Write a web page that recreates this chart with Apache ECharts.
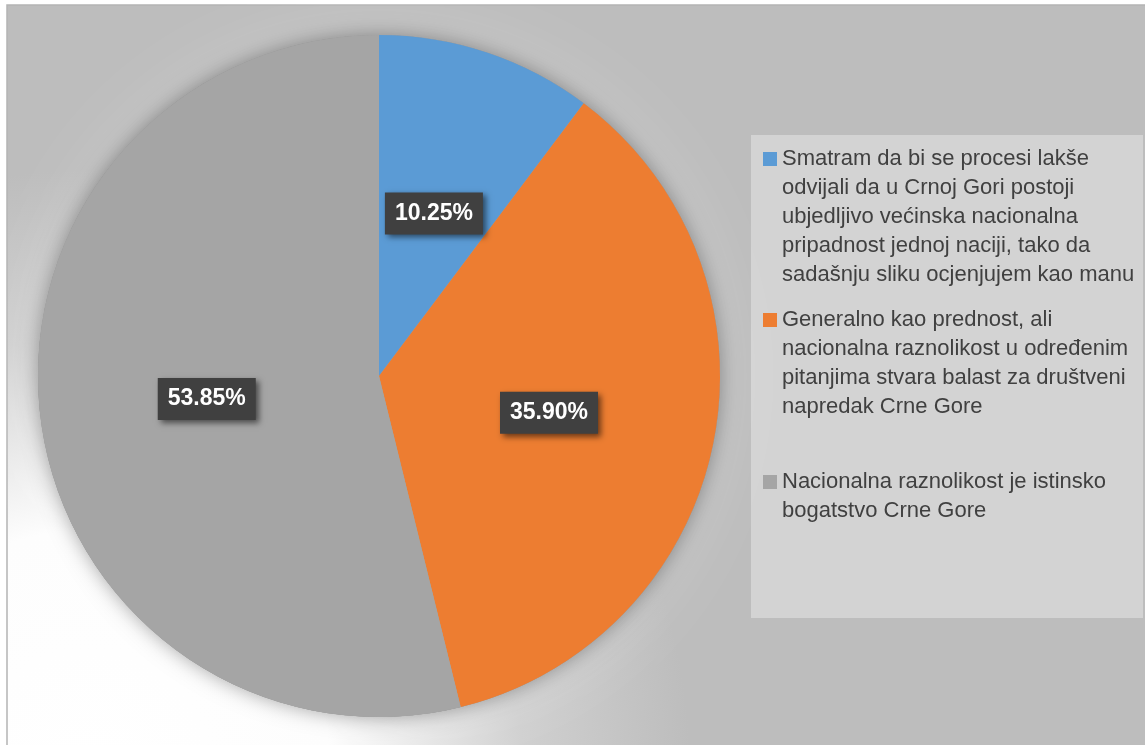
<!DOCTYPE html>
<html>
<head>
	<meta charset="utf-8">
	<title>Nacionalna raznolikost</title>
	<script src="https://cdn.jsdelivr.net/npm/echarts@6/dist/echarts.min.js"></script>
	<style>
		html, body { margin: 0; padding: 0; background: #fff; }
		#box { width: 1145px; height: 745px; }
	</style>
</head>
<body>
	<div id="box"></div>
	<script type="text/javascript">
		// legend text, one entry per line as wrapped in the original
		var categoryLines = [
			['Smatram da bi se procesi lakše', 'odvijali da u Crnoj Gori postoji', 'ubjedljivo većinska nacionalna', 'pripadnost jednoj naciji, tako da', 'sadašnju sliku ocjenjujem kao manu'],
			['Generalno kao prednost, ali', 'nacionalna raznolikost u određenim', 'pitanjima stvara balast za društveni', 'napredak Crne Gore'],
			['Nacionalna raznolikost je istinsko', 'bogatstvo Crne Gore']
		]
		var categories = categoryLines.map(function (l) { return l.join(' ') })
		// share in percent
		var values = [10.25, 35.90, 53.85]
		var colors = ['#5b9bd5', '#ed7d31', '#a5a5a5']

		var center = [379, 376]
		var radius = 341
		var lh = 29
		// centre of first legend line for each entry
		var legendFirstLine = [159, 320, 482]

		var chart = echarts.init(document.getElementById('box'))

		var pieData = categories.map(function (name, i) {
			return { name: name, value: values[i], itemStyle: { color: colors[i] } }
		})

		// one legend per entry so the vertical spacing can follow the original
		var legends = categories.map(function (name, i) {
			var n = categoryLines[i].length
			// blank lines on top keep the icon level with the first line
			var pad = new Array(n).join('\n')
			return {
				data: [name],
				orient: 'vertical',
				left: 763,
				top: legendFirstLine[i] - (2 * n - 1) * lh / 2,
				padding: 0,
				icon: 'rect',
				itemWidth: 14,
				itemHeight: 14,
				selectedMode: false,
				formatter: function () { return pad + categoryLines[i].join('\n') },
				textStyle: {
					fontFamily: 'Liberation Sans',
					fontSize: 22,
					color: '#404040',
					lineHeight: lh
				}
			}
		})

		var option = {
			backgroundColor: '#ffffff',
			animation: false,
			graphic: [
				{
					type: 'rect',
					silent: true,
					z: -10,
					shape: { x: 7, y: 5, width: 1145, height: 745 },
					style: {
						fill: {
							type: 'radial', x: 90, y: 770, r: 600, global: true,
							colorStops: [
								{ offset: 0, color: '#ffffff' },
								{ offset: 0.4, color: '#fdfdfd' },
								{ offset: 0.72, color: '#d0d0d0' },
								{ offset: 1, color: '#bdbdbd' }
							]
						},
						stroke: '#b4b4b4',
						lineWidth: 1.5
					}
				},
				{
					type: 'rect',
					silent: true,
					z: -9,
					shape: { x: 751, y: 135, width: 392, height: 483 },
					style: { fill: '#d3d3d3' }
				}
			],
			legend: legends,
			series: [
				// faint glow and soft shadow behind the pie
				{
					type: 'pie', silent: true, center: center, radius: radius, z: 1,
					label: { show: false }, labelLine: { show: false },
					itemStyle: { color: '#a5a5a5', shadowColor: 'rgba(255,255,255,0.3)', shadowBlur: 60 },
					data: [{ value: 1, name: '' }]
				},
				{
					type: 'pie', silent: true, center: center, radius: radius, z: 1,
					label: { show: false }, labelLine: { show: false },
					itemStyle: { color: '#a5a5a5', shadowColor: 'rgba(0,0,0,0.35)', shadowBlur: 20 },
					data: [{ value: 1, name: '' }]
				},
				{
					type: 'pie',
					center: center,
					radius: radius,
					startAngle: 90,
					clockwise: true,
					z: 2,
					emphasis: { disabled: true },
					data: pieData,
					label: {
						position: 'inside',
						formatter: function (p) { return p.value.toFixed(2) + '%' },
						color: '#ffffff',
						fontFamily: 'Liberation Sans',
						fontWeight: 'bold',
						fontSize: 23,
						backgroundColor: '#404040',
						padding: [10, 10, 9, 10],
						offset: [0, 2],
						shadowColor: 'rgba(0,0,0,0.55)',
						shadowBlur: 6,
						shadowOffsetX: 3,
						shadowOffsetY: 3
					},
					labelLine: { show: false }
				}
			]
		}

		chart.setOption(option)
	</script>
</body>
</html>
